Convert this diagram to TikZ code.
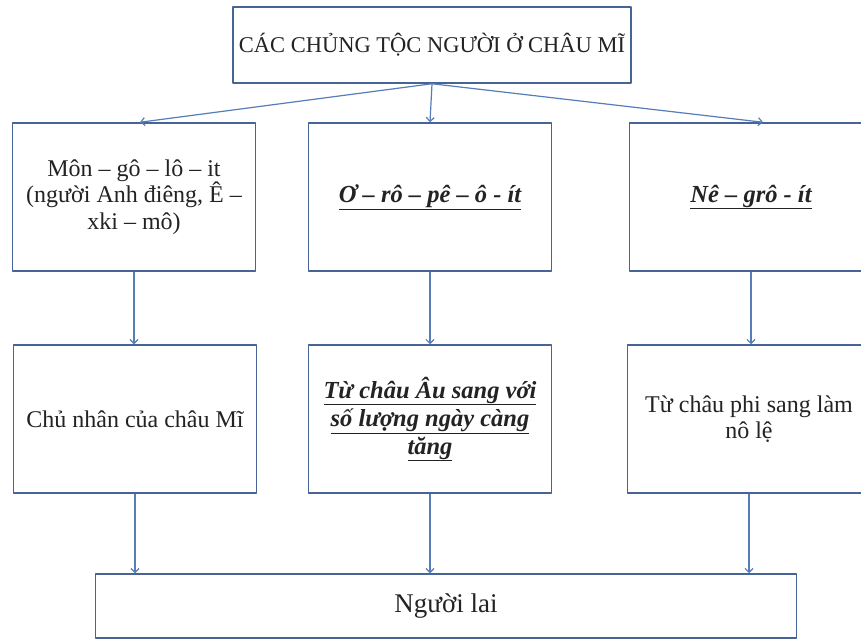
\documentclass[tikz,border=0pt]{standalone}
\usepackage{fontspec}
\setmainfont{Liberation Serif}
\usetikzlibrary{arrows.meta}
\definecolor{rim}{RGB}{70,100,150}
\definecolor{lien}{RGB}{85,125,185}
\definecolor{muc}{RGB}{35,35,35}
\tikzset{
	hop/.style={draw=rim, line width=1.5pt, fill=white, text=muc, align=center, inner sep=0pt,
		minimum width=243pt, minimum height=148pt, font=\fontsize{24}{26.5}\selectfont},
	nghieng/.style={font=\fontsize{24.5}{28}\selectfont\bfseries\itshape},
	noi/.style={->, draw=lien, line width=1.2pt}
}
\begin{document}
\begin{tikzpicture}[x=1pt, y=-1pt, line join=round, >={Straight Barb[length=4pt,width=8pt]}]
		\def\w{861}\def\h{640}
		\useasboundingbox (0,0) rectangle (\w,\h);
		\fill[white] (0,0) rectangle (\w,\h);
		\clip (0,0) rectangle (\w,\h);
		% top
		\node[hop, minimum width=398pt, minimum height=76pt, font=\fontsize{22.5}{26}\selectfont] (chungtoc) at (432,45) {CÁC CHỦNG TỘC NGƯỜI Ở CHÂU MĨ};
		% row 1
		\node[hop] (mongoloit) at (134,197) {Môn – gô – lô – it\\(người Anh điêng, Ê –\\xki – mô)};
		\node[hop, nghieng] (oropeoit) at (430,197) {\underline{Ơ – rô – pê – ô - ít}};
		\node[hop, nghieng] (negroit) at (751,197) {\underline{Nê – grô - ít}};
		% row 2
		\node[hop] (chunhan) at (135,419) {Chủ nhân của châu Mĩ};
		\node[hop, nghieng] (chauau) at (430,419) {\underline{Từ châu Âu sang với}\\\underline{số lượng ngày càng}\\\underline{tăng}};
		\node[hop] (chauphi) at (749,419) {Từ châu phi sang làm\\nô lệ};
		% bottom
		\node[hop, minimum width=701pt, minimum height=64pt, font=\fontsize{27}{30}\selectfont] (nguoilai) at (446,606) {Người lai};
		\draw[noi] (chungtoc.south) -- ([xshift=6pt]mongoloit.north);
		\draw[noi] (chungtoc.south) -- (oropeoit.north);
		\draw[noi] (chungtoc.south) -- ([xshift=12pt]negroit.north);
		\foreach \a/\b in {mongoloit/chunhan, oropeoit/chauau, negroit/chauphi}\draw[noi] (\a) -- (\a |- \b.north);
		\foreach \a in {chunhan, chauau, chauphi}\draw[noi] (\a) -- (\a |- nguoilai.north);
\end{tikzpicture}
\end{document}
